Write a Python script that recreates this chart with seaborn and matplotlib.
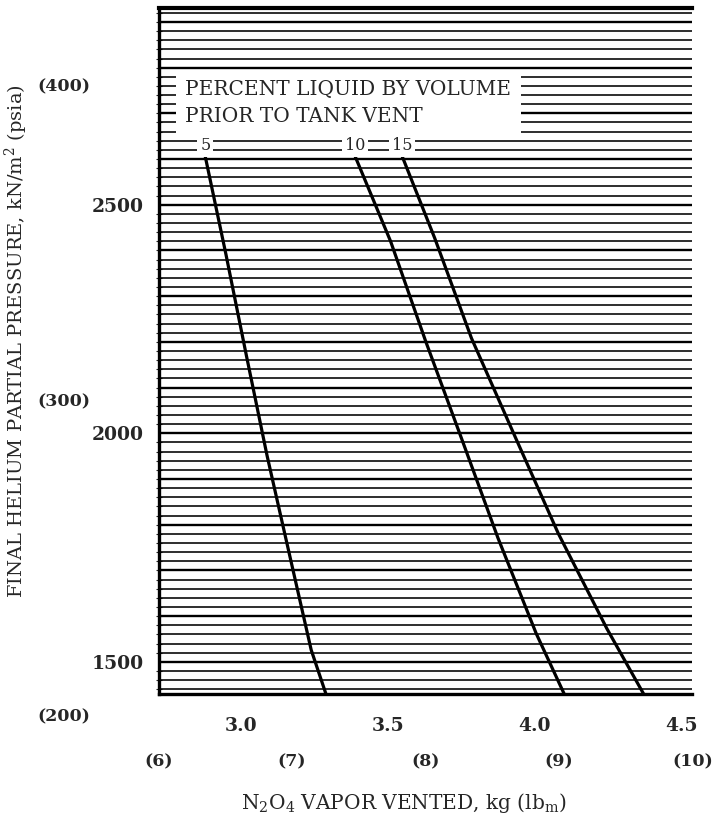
import numpy as np
import pandas as pd
import matplotlib
matplotlib.use("Agg")
import matplotlib.pyplot as plt
import seaborn as sns
from matplotlib.ticker import MultipleLocator
from matplotlib.transforms import blended_transform_factory

# Egrilerden okunan degerler: basinc (kN/m2) ve atilan N2O4 buhari (kg)
levels = ["5", "10", "15"]
p_5 = [2605, 2392, 2169, 1951, 1738, 1526, 1430]
m_5 = [2.88, 2.95, 3.02, 3.09, 3.165, 3.24, 3.29]
p_10 = [2605, 2420, 2200, 1982, 1771, 1562, 1430]
m_10 = [3.39, 3.51, 3.63, 3.755, 3.875, 4.005, 4.10]
p_15 = [2605, 2427, 2208, 1990, 1781, 1573, 1430]
m_15 = [3.55, 3.66, 3.785, 3.935, 4.08, 4.245, 4.37]

kg_ticks = [3.0, 3.5, 4.0, 4.5]
kg_labels = ["3.0", "3.5", "4.0", "4.5"]
lb_ticks = [6, 7, 8, 9, 10]
kn_ticks = [1500, 2000, 2500]
psia_ticks = [200, 300, 400]

LB_TO_KG = 0.45359
PSI_TO_KN = 6.89476


def build_frame():
    parts = []
    for lv, p, m in zip(levels, [p_5, p_10, p_15], [m_5, m_10, m_15]):
        parts.append(pd.DataFrame({"kg": m, "kN": p, "pct": lv}))
    return pd.concat(parts, ignore_index=True)


def draw(df):
    sns.set_style("white")
    plt.rcParams["font.family"] = ["DejaVu Serif"]
    plt.rcParams["mathtext.fontset"] = "dejavuserif"

    fig = plt.figure(figsize=(7.28, 8.23), dpi=100)
    ax = fig.add_axes([0.218, 0.157, 0.733, 0.833])

    x_lo, x_hi = lb_ticks[0] * LB_TO_KG, lb_ticks[-1] * LB_TO_KG
    y_lo, y_hi = 1430, 2930
    ax.set_xlim(x_lo, x_hi)
    ax.set_ylim(y_lo, y_hi)

    # yogun yatay cizgi agi (milimetrik kagit gorunumu)
    for y in np.arange(1440, y_hi, 20):
        ax.axhline(y, color="black", lw=1.7 if y % 100 == 0 else 1.15, zorder=1)

    sns.lineplot(data=df, x="kg", y="kN", hue="pct", palette=["black"] * 3,
                 sort=False, estimator=None, legend=False, lw=2.3, ax=ax, zorder=4)

    # egri etiketleri
    for lv, m, p in zip(levels, [m_5, m_10, m_15], [p_5, p_10, p_15]):
        ax.text(m[0], p[0] + 25, lv, ha="center", va="center", fontsize=11.5,
                bbox=dict(facecolor="white", edgecolor="none", pad=2), zorder=5)

    ax.text(0.05, 0.895, "PERCENT LIQUID BY VOLUME\nPRIOR TO TANK VENT",
            transform=ax.transAxes, ha="left", va="top", fontsize=14.5, linespacing=1.55,
            bbox=dict(facecolor="white", edgecolor="none", pad=7), zorder=5)

    # eksenler
    ax.set_xticks(kg_ticks)
    ax.set_xticklabels(kg_labels)
    ax.set_yticks(kn_ticks)
    ax.yaxis.set_minor_locator(MultipleLocator(20))
    ax.tick_params(axis="x", direction="in", length=5, width=1.5, pad=17, labelsize=13.5)
    ax.tick_params(axis="y", which="major", direction="out", length=7, width=1.5, labelsize=13.5)
    ax.tick_params(axis="y", which="minor", direction="inout", length=4, width=0.8, left=True)
    plt.setp(ax.get_xticklabels() + ax.get_yticklabels(), fontweight="bold")

    for side in ["left", "bottom"]:
        ax.spines[side].set_linewidth(2.4)
        ax.spines[side].set_color("black")
    ax.spines["top"].set_linewidth(3)
    ax.spines["top"].set_color("black")
    ax.spines["right"].set_visible(False)

    # ikincil birimler (lbm ve psia)
    tr_x = blended_transform_factory(ax.transData, ax.transAxes)
    for lb in lb_ticks:
        ax.text(lb * LB_TO_KG, -0.1, f"({lb})", transform=tr_x, ha="center", va="center",
                fontsize=12.5, fontweight="bold", clip_on=False)
    tr_y = blended_transform_factory(ax.transAxes, ax.transData)
    for ps in psia_ticks:
        ax.text(-0.178, ps * PSI_TO_KN, f"({ps})", transform=tr_y, ha="center", va="center",
                fontsize=12.5, fontweight="bold", clip_on=False)

    ax.set_xlabel("")
    ax.set_ylabel("")
    ax.text(0.46, -0.16, r"N$_2$O$_4$ VAPOR VENTED, kg (lb$_\mathrm{m}$)", transform=ax.transAxes,
            ha="center", va="center", fontsize=14.5)
    fig.text(0.023, 0.585, r"FINAL HELIUM PARTIAL PRESSURE, kN/m$^2$ (psia)", rotation=90,
             ha="center", va="center", fontsize=14)

    fig.savefig("out.png", dpi=100)


if __name__ == "__main__":
    draw(build_frame())
